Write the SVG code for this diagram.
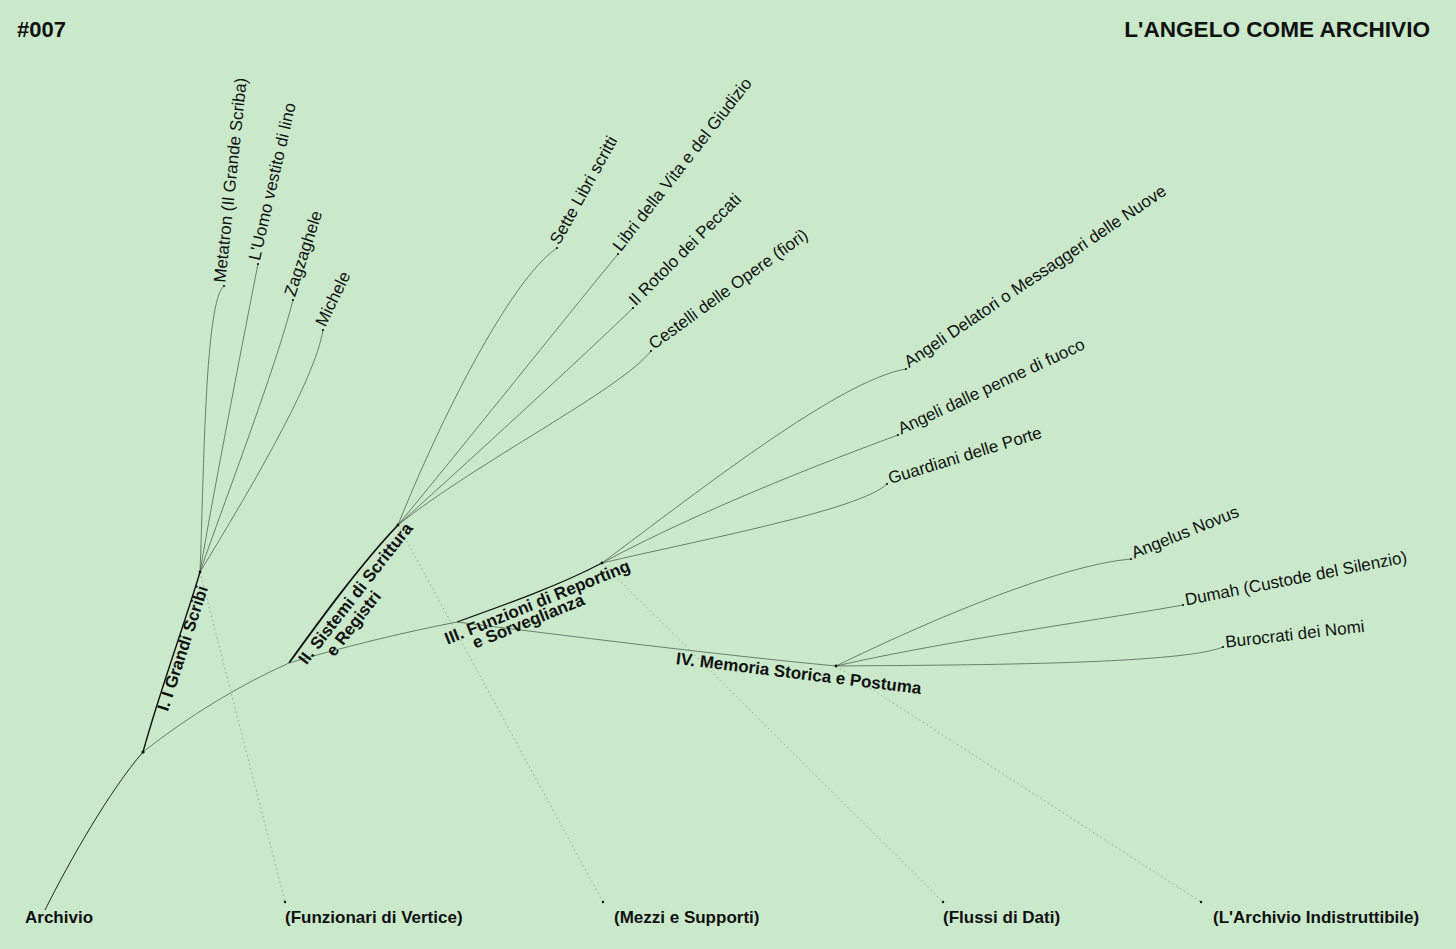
<svg xmlns="http://www.w3.org/2000/svg" width="1456" height="949" viewBox="0 0 1456 949">
<style>
.bg{fill:#cae9cb}
.t{font-family:"Liberation Sans",Arial,Helvetica,sans-serif;fill:#111}
.title{font-size:22px;font-weight:bold}
.bl{font-size:17px;font-weight:bold}
.lf{font-size:17px}
.thin{fill:none;stroke:#4f6350;stroke-width:0.8}
.thick{fill:none;stroke:#111;stroke-width:1.4}
.dot{fill:none;stroke:#8ea58e;stroke-width:0.9;stroke-dasharray:1.5 3}
.pt{fill:#111}
</style>
<rect class="bg" x="0" y="0" width="1456" height="949"/>
<text class="t title" x="17" y="36.5">#007</text>
<text class="t title" x="1430" y="36.5" text-anchor="end" style="font-size:22.6px">L'ANGELO COME ARCHIVIO</text>

<g id="connectors">
  <!-- dotted guides -->
  <path class="dot" d="M200,572 L285,902"/>
  <path class="dot" d="M398,525 L603,902"/>
  <path class="dot" d="M602,563 L943,902"/>
  <path class="dot" d="M836,666 L1201,902"/>
  <!-- trunk -->
  <path class="thick" d="M45,910 C70,860 110,790 143,752" style="stroke-width:0.9"/>
  <path class="thick" d="M143,752 C160,690 186,620 200,572"/>
  <path class="thin" d="M143,752 C190,715 240,685 289,663"/>
  <path class="thick" d="M289,663 C320,620 360,565 398,525" style="stroke-width:1.8"/>
  <path class="thin" d="M289,663 C340,648 400,633 457,622"/>
  <path class="thick" d="M457,622 C510,603 560,585 602,563" style="stroke-width:1.1"/>
  <path class="thin" d="M457,622 C560,635 720,655 836,666"/>
  <!-- I leaves -->
  <path class="thin" d="M200,572 C204,470 205,300 224,286"/>
  <path class="thin" d="M200,572 C212,500 245,330 258,264"/>
  <path class="thin" d="M200,572 C225,500 275,370 293,300"/>
  <path class="thin" d="M200,572 C250,490 315,380 323,330"/>
  <!-- II leaves -->
  <path class="thin" d="M398,525 C440,420 510,280 557,248"/>
  <path class="thin" d="M398,525 C460,450 580,300 618,254"/>
  <path class="thin" d="M398,525 C470,460 590,350 633,308"/>
  <path class="thin" d="M398,525 C480,460 620,390 651,351"/>
  <!-- III leaves -->
  <path class="thin" d="M602,563 C700,490 840,380 906,369"/>
  <path class="thin" d="M602,563 C700,510 830,460 898,435"/>
  <path class="thin" d="M602,563 C700,540 860,510 887,484"/>
  <!-- IV leaves -->
  <path class="thin" d="M836,666 C930,620 1060,565 1131,559"/>
  <path class="thin" d="M836,666 C950,640 1100,620 1183,605"/>
  <path class="thin" d="M836,666 C950,665 1180,665 1223,647"/>
</g>

<g id="root">
  <circle class="pt" cx="143" cy="752" r="1.6"/>
  <text class="t bl" x="25" y="923">Archivio</text>
</g>
<g id="bottom-labels">
  <circle class="pt" cx="285" cy="902" r="1.2"/>
  <text class="t bl" x="285" y="923">(Funzionari di Vertice)</text>
  <circle class="pt" cx="603" cy="902" r="1.2"/>
  <text class="t bl" x="614" y="923">(Mezzi e Supporti)</text>
  <circle class="pt" cx="943" cy="902" r="1.2"/>
  <text class="t bl" x="943" y="923">(Flussi di Dati)</text>
  <circle class="pt" cx="1201" cy="902" r="1.2"/>
  <text class="t bl" x="1213" y="923">(L'Archivio Indistruttibile)</text>
</g>

<g id="branch-I">
  <circle class="pt" cx="200" cy="572" r="1.4"/>
  <text class="t bl" text-anchor="middle" transform="translate(188,650) rotate(-72)">I. I Grandi Scribi</text>
</g>
<g id="branch-II">
  <circle class="pt" cx="398" cy="525" r="1.4"/>
  <text class="t bl" text-anchor="middle" transform="translate(360,597) rotate(-52)">II. Sistemi di Scrittura</text>
  <text class="t bl" text-anchor="middle" transform="translate(358,627) rotate(-52)">e Registri</text>
</g>
<g id="branch-III">
  <circle class="pt" cx="602" cy="563" r="1.4"/>
  <text class="t bl" text-anchor="middle" transform="translate(539.5,607.5) rotate(-22)">III. Funzioni di Reporting</text>
  <text class="t bl" text-anchor="middle" transform="translate(530.5,626.5) rotate(-22)">e Sorveglianza</text>
</g>
<g id="branch-IV">
  <circle class="pt" cx="836" cy="666" r="1.4"/>
  <text class="t bl" text-anchor="middle" transform="translate(798,679) rotate(7)">IV. Memoria Storica e Postuma</text>
</g>

<g id="leaf-metatron"><circle class="pt" cx="224" cy="286" r="1.1"/><text class="t lf" transform="translate(224,286) rotate(-84)" x="3" y="1">Metatron (Il Grande Scriba)</text></g>
<g id="leaf-uomo"><circle class="pt" cx="258" cy="264" r="1.1"/><text class="t lf" transform="translate(258,264) rotate(-77)" x="3" y="1">L'Uomo vestito di lino</text></g>
<g id="leaf-zagzaghele"><circle class="pt" cx="293" cy="300" r="1.1"/><text class="t lf" transform="translate(293,300) rotate(-72)" x="3" y="1">Zagzaghele</text></g>
<g id="leaf-michele"><circle class="pt" cx="323" cy="330" r="1.1"/><text class="t lf" transform="translate(323,330) rotate(-64)" x="3" y="1">Michele</text></g>

<g id="leaf-sette"><circle class="pt" cx="557" cy="248" r="1.1"/><text class="t lf" transform="translate(557,248) rotate(-61)" x="3" y="1">Sette Libri scritti</text></g>
<g id="leaf-libri"><circle class="pt" cx="618" cy="254" r="1.1"/><text class="t lf" transform="translate(618,254) rotate(-52)" x="3" y="1">Libri della Vita e del Giudizio</text></g>
<g id="leaf-rotolo"><circle class="pt" cx="633" cy="308" r="1.1"/><text class="t lf" transform="translate(633,308) rotate(-45)" x="3" y="1">Il Rotolo dei Peccati</text></g>
<g id="leaf-cestelli"><circle class="pt" cx="651" cy="351" r="1.1"/><text class="t lf" transform="translate(651,351) rotate(-36)" x="3" y="1">Cestelli delle Opere (fiori)</text></g>

<g id="leaf-delatori"><circle class="pt" cx="906" cy="369" r="1.1"/><text class="t lf" transform="translate(906,369) rotate(-34)" x="3" y="1">Angeli Delatori o Messaggeri delle Nuove</text></g>
<g id="leaf-penne"><circle class="pt" cx="898" cy="435" r="1.1"/><text class="t lf" transform="translate(898,435) rotate(-25)" x="3" y="1">Angeli dalle penne di fuoco</text></g>
<g id="leaf-guardiani"><circle class="pt" cx="887" cy="484" r="1.1"/><text class="t lf" transform="translate(887,484) rotate(-17)" x="3" y="1">Guardiani delle Porte</text></g>

<g id="leaf-angelus"><circle class="pt" cx="1131" cy="559" r="1.1"/><text class="t lf" transform="translate(1131,559) rotate(-22)" x="3" y="1">Angelus Novus</text></g>
<g id="leaf-dumah"><circle class="pt" cx="1183" cy="605" r="1.1"/><text class="t lf" transform="translate(1183,605) rotate(-11)" x="3" y="1">Dumah (Custode del Silenzio)</text></g>
<g id="leaf-burocrati"><circle class="pt" cx="1223" cy="647" r="1.1"/><text class="t lf" transform="translate(1223,647) rotate(-6.5)" x="3" y="1">Burocrati dei Nomi</text></g>
</svg>
